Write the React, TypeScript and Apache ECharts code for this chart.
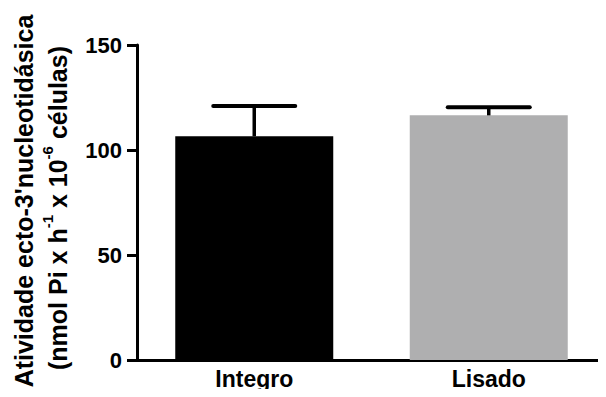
import React, { useEffect, useRef } from "react";
import * as echarts from "echarts";

const categories = ["Integro", "Lisado"];
const means = [106.5, 116.5];
const errors = [14.5, 3.8];
const barColors = ["#000000", "#afafb0"];
const yTicks = { min: 0, max: 150, interval: 50 };

const FONT = "'Liberation Sans', Arial, Helvetica, sans-serif";

export default function App() {
  const ref = useRef<HTMLDivElement>(null);
  useEffect(() => {
    if (!ref.current) return;
    const chart = echarts.init(ref.current, null, { renderer: "svg" });
    const errData = categories.map((c, i) => [i, means[i], errors[i]]);
    chart.setOption({
      animation: false,
      backgroundColor: "#ffffff",
      grid: { left: 137, right: -8, top: 45, bottom: 37, containLabel: false },
      xAxis: {
        type: "category",
        data: categories,
        axisLine: { lineStyle: { color: "#000", width: 3 } },
        axisTick: { alignWithLabel: true, length: 7, lineStyle: { color: "#000", width: 3 } },
        axisLabel: { color: "#000", fontSize: 23, fontWeight: "bold", fontFamily: FONT, margin: 7, lineHeight: 24 },
        splitLine: { show: false },
      },
      yAxis: {
        type: "value",
        min: yTicks.min,
        max: yTicks.max,
        interval: yTicks.interval,
        axisLine: { show: true, lineStyle: { color: "#000", width: 3 } },
        axisTick: { show: true, length: 10, lineStyle: { color: "#000", width: 3 } },
        axisLabel: { color: "#000", fontSize: 22, fontWeight: "bold", fontFamily: FONT, margin: 15 },
        splitLine: { show: false },
      },
      series: [
        {
          type: "bar",
          barWidth: 158,
          data: means.map((v, i) => ({ value: v, itemStyle: { color: barColors[i] } })),
          z: 2,
        },
        {
          type: "custom",
          data: errData,
          encode: { x: 0, y: 1 },
          z: 3,
          renderItem: (params: any, api: any) => {
            const x = api.value(0);
            const m = api.value(1);
            const e = api.value(2);
            const p0 = api.coord([x, m]);
            const p1 = api.coord([x, m + e]);
            const half = 41;
            return {
              type: "group",
              children: [
                {
                  type: "line",
                  shape: { x1: p0[0], y1: p0[1], x2: p1[0], y2: p1[1] },
                  style: { stroke: "#000", lineWidth: 3.5 },
                },
                {
                  type: "line",
                  shape: { x1: p1[0] - half, y1: p1[1], x2: p1[0] + half, y2: p1[1] },
                  style: { stroke: "#000", lineWidth: 4, lineCap: "round" },
                },
              ],
            };
          },
        },
      ],
      graphic: [
        {
          type: "text",
          x: 24,
          y: 201,
          rotation: Math.PI / 2,
          style: {
            text: "Atividade ecto-3'nucleotidásica",
            fill: "#000",
            font: `bold 25px ${FONT}`,
            align: "center",
            verticalAlign: "middle",
          },
        },
        {
          type: "text",
          x: 55,
          y: 208,
          rotation: Math.PI / 2,
          style: {
            text: "{b|(nmol Pi x h}{s|-1}{b| x 10}{s|-6}{b| células)}",
            fill: "#000",
            align: "center",
            verticalAlign: "middle",
            rich: {
              b: { fontSize: 25, fontWeight: "bold", fontFamily: FONT, fill: "#000", lineHeight: 30, verticalAlign: "bottom" },
              s: { fontSize: 15, fontWeight: "bold", fontFamily: FONT, fill: "#000", lineHeight: 14, verticalAlign: "top" },
            },
          },
        },
      ],
    });
    return () => chart.dispose();
  }, []);
  return <div ref={ref} style={{ width: 606, height: 397, margin: -8 }} />;
}
